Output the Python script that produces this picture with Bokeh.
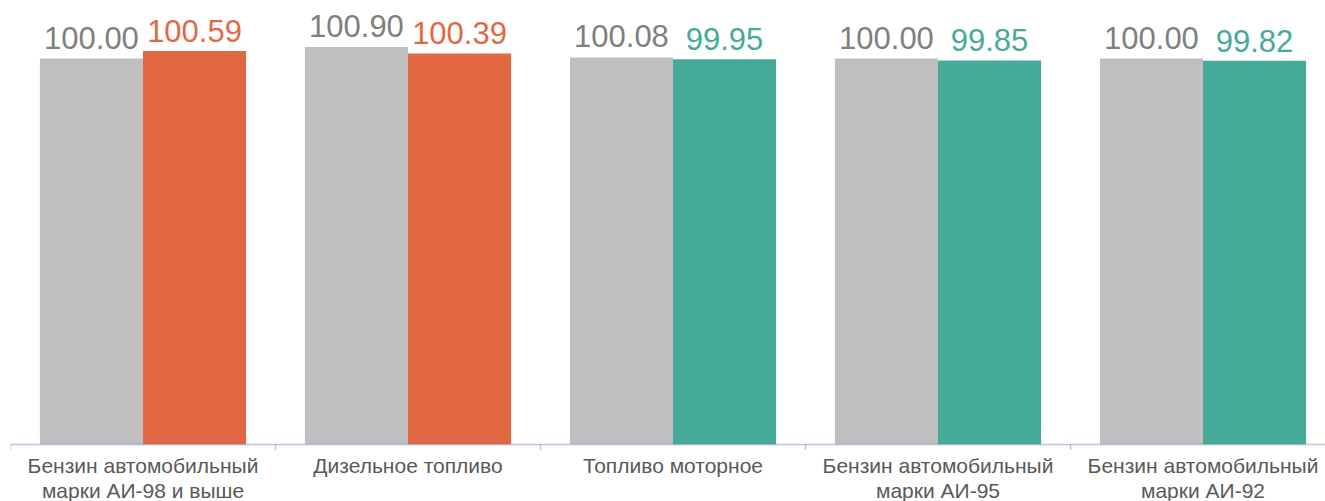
from bokeh.plotting import figure
from bokeh.models import ColumnDataSource, LabelSet, Range1d
from bokeh.core.properties import value
from bokeh.embed import file_html
from bokeh.resources import INLINE

# ---- data ----
categories = [
    "Бензин автомобильный\nмарки АИ-98 и выше",
    "Дизельное топливо",
    "Топливо моторное",
    "Бензин автомобильный\nмарки АИ-95",
    "Бензин автомобильный\nмарки АИ-92",
]
base_values = [100.00, 100.90, 100.08, 100.00, 100.00]
current_values = [100.59, 100.39, 99.95, 99.85, 99.82]
current_colors = ["#E26844", "#E26844", "#46AA98", "#46AA98", "#46AA98"]

# ---- layout ----
W, H = 1325, 501
LEFT, TOP = 10, 8
FRAME_W = W - LEFT
FRAME_H = H - TOP
CAT_PX = 265.0
BAR_W = 0.389
AXIS_VAL = 70.0          # value at the baseline
AXIS_PX = 444 - TOP      # baseline position inside the frame (px from top)
PX_PER_UNIT = 386 / 30.0
Y_TOP = AXIS_VAL + AXIS_PX / PX_PER_UNIT
Y_BOT = AXIS_VAL - (FRAME_H - AXIS_PX) / PX_PER_UNIT
TICK_LEN = 6 / PX_PER_UNIT
LABEL_GAP = 9.5 / PX_PER_UNIT
FONT = "Liberation Sans"
AXIS_COLOR = "#7F8FC0"

n = len(categories)
centers = [i + 0.5 for i in range(n)]
x_end = FRAME_W / CAT_PX

src = ColumnDataSource(dict(
    xg=[c - BAR_W / 2 for c in centers],
    xo=[c + BAR_W / 2 for c in centers],
    base=base_values,
    cur=current_values,
    col=current_colors,
    base_txt=[f"{v:.2f}" for v in base_values],
    cur_txt=[f"{v:.2f}" for v in current_values],
))
cat_src = ColumnDataSource(dict(x=centers, y=[AXIS_VAL - LABEL_GAP] * n, t=categories))
bounds = list(range(n + 1))
tick_src = ColumnDataSource(dict(x=bounds, y0=[AXIS_VAL] * len(bounds),
                                 y1=[AXIS_VAL - TICK_LEN] * len(bounds)))

p = figure(width=W, height=H, output_backend="svg", toolbar_location=None,
           x_range=Range1d(0, x_end), y_range=Range1d(Y_BOT, Y_TOP),
           min_border_left=LEFT, min_border_right=0, min_border_top=TOP,
           min_border_bottom=0)
p.outline_line_color = None
p.xgrid.visible = False
p.ygrid.visible = False
p.xaxis.visible = False
p.yaxis.visible = False
p.background_fill_color = "white"

p.vbar(x="xg", top="base", bottom=AXIS_VAL, width=BAR_W, source=src,
       fill_color="#BFBFBF", line_color=None)
p.vbar(x="xo", top="cur", bottom=AXIS_VAL, width=BAR_W, source=src,
       fill_color="col", line_color=None)

# category axis: dotted baseline with boundary ticks
p.segment(x0=0, y0=AXIS_VAL, x1=x_end, y1=AXIS_VAL, line_color=AXIS_COLOR,
          line_dash="1 1", line_width=1.5)
p.segment(x0="x", y0="y0", x1="x", y1="y1", source=tick_src,
          line_color=AXIS_COLOR, line_dash="1 1", line_width=1.5)

p.text(x="x", y="y", text="t", source=cat_src, text_align="center",
       text_baseline="top", text_font=value(FONT), text_font_size=value("21px"),
       text_line_height=1.09, text_color="#595959")

p.add_layout(LabelSet(x="xg", y="base", text="base_txt", source=src,
                      y_offset=10, text_align="center", text_baseline="alphabetic",
                      text_font=value(FONT), text_font_size=value("31px"),
                      text_color="#7F7F7F"))
p.add_layout(LabelSet(x="xo", y="cur", text="cur_txt", source=src,
                      y_offset=9, text_align="center", text_baseline="alphabetic",
                      text_font=value(FONT), text_font_size=value("31px"),
                      text_color="col"))

open("out.html", "w").write(file_html(p, INLINE))
